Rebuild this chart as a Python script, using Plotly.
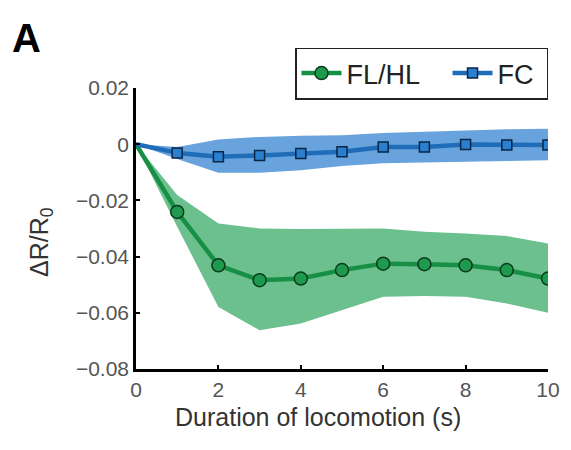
import plotly.graph_objects as go

# Data
t_points = [1, 2, 3, 4, 5, 6, 7, 8, 9, 10]
t_full = [0] + t_points

flhl_mean = [-0.0241, -0.0431, -0.0484, -0.0478, -0.0448, -0.0425, -0.0427, -0.0431, -0.0448, -0.0478]
flhl_upper = [-0.0181, -0.0282, -0.0300, -0.0302, -0.0302, -0.0300, -0.0312, -0.0318, -0.0327, -0.0353]
flhl_lower = [-0.0294, -0.0579, -0.0662, -0.0638, -0.0591, -0.0543, -0.0540, -0.0543, -0.0567, -0.0600]

fc_mean = [-0.0031, -0.0045, -0.0040, -0.0033, -0.0027, -0.0010, -0.0010, -0.0001, -0.0003, -0.0003]
fc_upper = [-0.0010, 0.0017, 0.0026, 0.0030, 0.0032, 0.0040, 0.0045, 0.0050, 0.0053, 0.0055]
fc_lower = [-0.0053, -0.0102, -0.0102, -0.0093, -0.0078, -0.0068, -0.0064, -0.0063, -0.0060, -0.0057]

start_value = 0.0

series_names = ["FL/HL", "FC"]
x_ticks = [0, 2, 4, 6, 8, 10]
y_ticks = [-0.08, -0.06, -0.04, -0.02, 0, 0.02]
y_tick_text = ["\u22120.08", "\u22120.06", "\u22120.04", "\u22120.02", "0", "0.02"]

GREEN_LINE = "#178f45"
GREEN_BAND = "rgb(108,192,142)"
GREEN_EDGE = "#0c3a1c"
BLUE_LINE = "#1f6db8"
BLUE_BAND = "rgb(104,163,222)"
BLUE_EDGE = "#0a2646"

fig = go.Figure()


def band(upper, lower, color):
    xs = t_full + t_full[::-1]
    ys = [start_value] + upper + (lower[::-1]) + [start_value]
    return go.Scatter(x=xs, y=ys, fill="toself", fillcolor=color, line=dict(width=0),
                      mode="lines", hoverinfo="skip", showlegend=False)


fig.add_trace(band(flhl_upper, flhl_lower, GREEN_BAND))
fig.add_trace(band(fc_upper, fc_lower, BLUE_BAND))

# connector segments from origin
fig.add_trace(go.Scatter(x=[0, t_points[0]], y=[start_value, flhl_mean[0]], mode="lines",
                         line=dict(color=GREEN_LINE, width=4.5), showlegend=False))
fig.add_trace(go.Scatter(x=[0, t_points[0]], y=[start_value, fc_mean[0]], mode="lines",
                         line=dict(color=BLUE_LINE, width=4.5), showlegend=False))

NB = "\u00a0"
fig.add_trace(go.Scatter(x=t_points, y=flhl_mean, mode="lines+markers",
                         name=series_names[0] + NB * 3,
                         line=dict(color=GREEN_LINE, width=4.5),
                         marker=dict(symbol="circle", size=13, color="#1e9a4f",
                                     line=dict(color=GREEN_EDGE, width=1.5))))
fig.add_trace(go.Scatter(x=t_points, y=fc_mean, mode="lines+markers",
                         name=series_names[1] + NB,
                         line=dict(color=BLUE_LINE, width=4.5),
                         marker=dict(symbol="square", size=10, color="#2a7fcf",
                                     line=dict(color=BLUE_EDGE, width=1.5))))

FONT = "Liberation Sans, Arial, sans-serif"

# page has an 8px body margin, so the figure is sized/placed to compensate
fig.update_layout(
    width=563, height=442,
    margin=dict(l=128, r=23, t=80, b=81),
    paper_bgcolor="white", plot_bgcolor="white",
    font=dict(family=FONT, color="#333333"),
    showlegend=True,
    legend=dict(orientation="h", x=1.0, xanchor="right", y=1.144, yanchor="top",
                bordercolor="#222222", borderwidth=1.5, bgcolor="white",
                font=dict(size=27, color="#222222", family=FONT),
                itemwidth=40, tracegroupgap=0),
    annotations=[
        dict(text="<b>A</b>", xref="paper", yref="paper", x=-0.2646, y=1.178,
             xanchor="center", yanchor="middle", showarrow=False,
             font=dict(size=40, color="black", family=FONT)),
        dict(text="\u0394R/R<sub>0</sub>", xref="paper", yref="paper", x=-0.2306, y=0.452,
             xanchor="center", yanchor="middle", textangle=-90, showarrow=False,
             font=dict(size=25, color="#333333", family=FONT)),
        dict(text="Duration of locomotion (s)", xref="paper", yref="paper", x=0.4417, y=-0.1708,
             xanchor="center", yanchor="middle", showarrow=False,
             font=dict(size=25, color="#333333", family=FONT)),
    ],
)

fig.update_xaxes(range=[0, 10], tickvals=x_ticks, ticks="inside", ticklen=4, tickwidth=2,
                 tickcolor="black", showline=True, linecolor="black", linewidth=2.5,
                 showgrid=False, zeroline=False, tickfont=dict(size=21, color="#555555"))
fig.update_yaxes(range=[-0.08, 0.02], tickvals=y_ticks, ticktext=y_tick_text, ticks="inside",
                 ticklen=4, tickwidth=2, tickcolor="black", showline=True, linecolor="black",
                 linewidth=2.5, showgrid=False, zeroline=False,
                 tickfont=dict(size=21, color="#555555"))

fig.write_html("out.html")
